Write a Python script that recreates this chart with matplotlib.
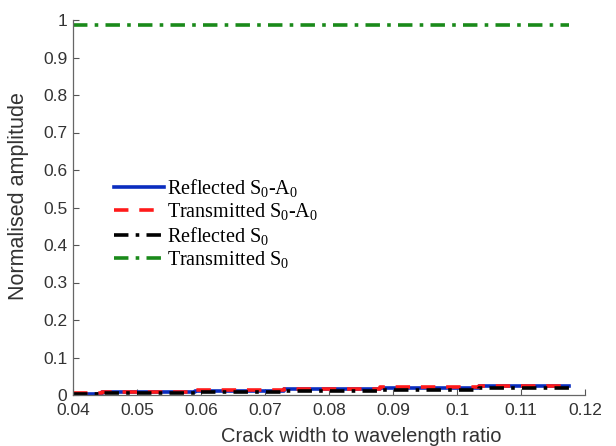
import matplotlib
matplotlib.use("Agg")
import matplotlib.pyplot as plt

# Data
x_break = [0.040, 0.0445, 0.059, 0.073, 0.088, 0.1035, 0.1175]
refl_s0a0 = [0.004, 0.008, 0.012, 0.016, 0.020, 0.024, 0.024]
trans_s0a0 = [0.005, 0.009, 0.013, 0.017, 0.021, 0.025, 0.025]
refl_s0 = [0.002, 0.005, 0.008, 0.011, 0.014, 0.018, 0.018]
x_trans = [0.040, 0.1175]
trans_s0 = [0.988, 0.988]

labels = [r"Reflected S$_0$-A$_0$", r"Transmitted S$_0$-A$_0$",
          r"Reflected S$_0$", r"Transmitted S$_0$"]
xticks = [0.04, 0.05, 0.06, 0.07, 0.08, 0.09, 0.1, 0.11, 0.12]
xticklabels = ["0.04", "0.05", "0.06", "0.07", "0.08", "0.09", "0.1", "0.11", "0.12"]
yticks = [0, 0.1, 0.2, 0.3, 0.4, 0.5, 0.6, 0.7, 0.8, 0.9, 1]
yticklabels = ["0", "0.1", "0.2", "0.3", "0.4", "0.5", "0.6", "0.7", "0.8", "0.9", "1"]

plt.rcParams['font.family'] = ['Liberation Sans', 'DejaVu Sans']
plt.rcParams['mathtext.fontset'] = 'custom'
plt.rcParams['mathtext.rm'] = 'Liberation Serif'
plt.rcParams['mathtext.it'] = 'Liberation Serif:italic'

fig = plt.figure(figsize=(6.16, 4.46), dpi=100)
ax = fig.add_axes([73/616, 1 - 395/446, (585 - 73)/616, (395 - 20)/446])

lw = 2.6
ax.plot(x_break, refl_s0a0, color='#0a2dbf', lw=lw, ls='-', drawstyle='steps-post', label=labels[0])
ax.plot(x_break, trans_s0a0, color='#ff1a1a', lw=lw, ls=(0, (4, 3)), drawstyle='steps-post', label=labels[1])
ax.plot(x_break, refl_s0, color='black', lw=lw, ls=(0, (4, 2, 1, 2)), drawstyle='steps-post', label=labels[2])
ax.plot(x_trans, trans_s0, color='#1a8a1a', lw=lw, ls=(0, (4, 2, 1, 2)), label=labels[3])

ax.set_xlim(0.04, 0.12)
ax.set_ylim(0, 1)
ax.set_xticks(xticks)
ax.set_xticklabels(xticklabels)
ax.set_yticks(yticks)
ax.set_yticklabels(yticklabels)
ax.tick_params(direction='in', length=4, width=0.8, labelsize=12.5, colors='#555555', labelcolor='#333333')
ax.tick_params(axis='x', pad=6)
ax.tick_params(axis='y', pad=4)
for s in ['top', 'right']:
    ax.spines[s].set_visible(False)
for s in ['left', 'bottom']:
    ax.spines[s].set_color('#666666')
    ax.spines[s].set_linewidth(0.9)

ax.set_xlabel("Crack width to wavelength ratio", fontsize=14.5, color='#333333')
ax.set_ylabel("Normalised amplitude", fontsize=15.5, color='#333333')
ax.xaxis.set_label_coords((361 - 73) / 512, -(437 - 395) / 375)
ax.yaxis.set_label_coords(-(73 - 19) / 512, (395 - 196) / 375)
ax.xaxis.label.set_verticalalignment('center')
ax.yaxis.label.set_verticalalignment('center')

leg = ax.legend(loc='upper left', bbox_to_anchor=(114/616, 1 - 177/446),
                bbox_transform=fig.transFigure, frameon=False,
                prop={'family': 'Liberation Serif', 'size': 14.5},
                handlelength=2.5, handletextpad=0.15, labelspacing=0.12,
                borderpad=0, borderaxespad=0)

fig.savefig("out.png", dpi=100)
